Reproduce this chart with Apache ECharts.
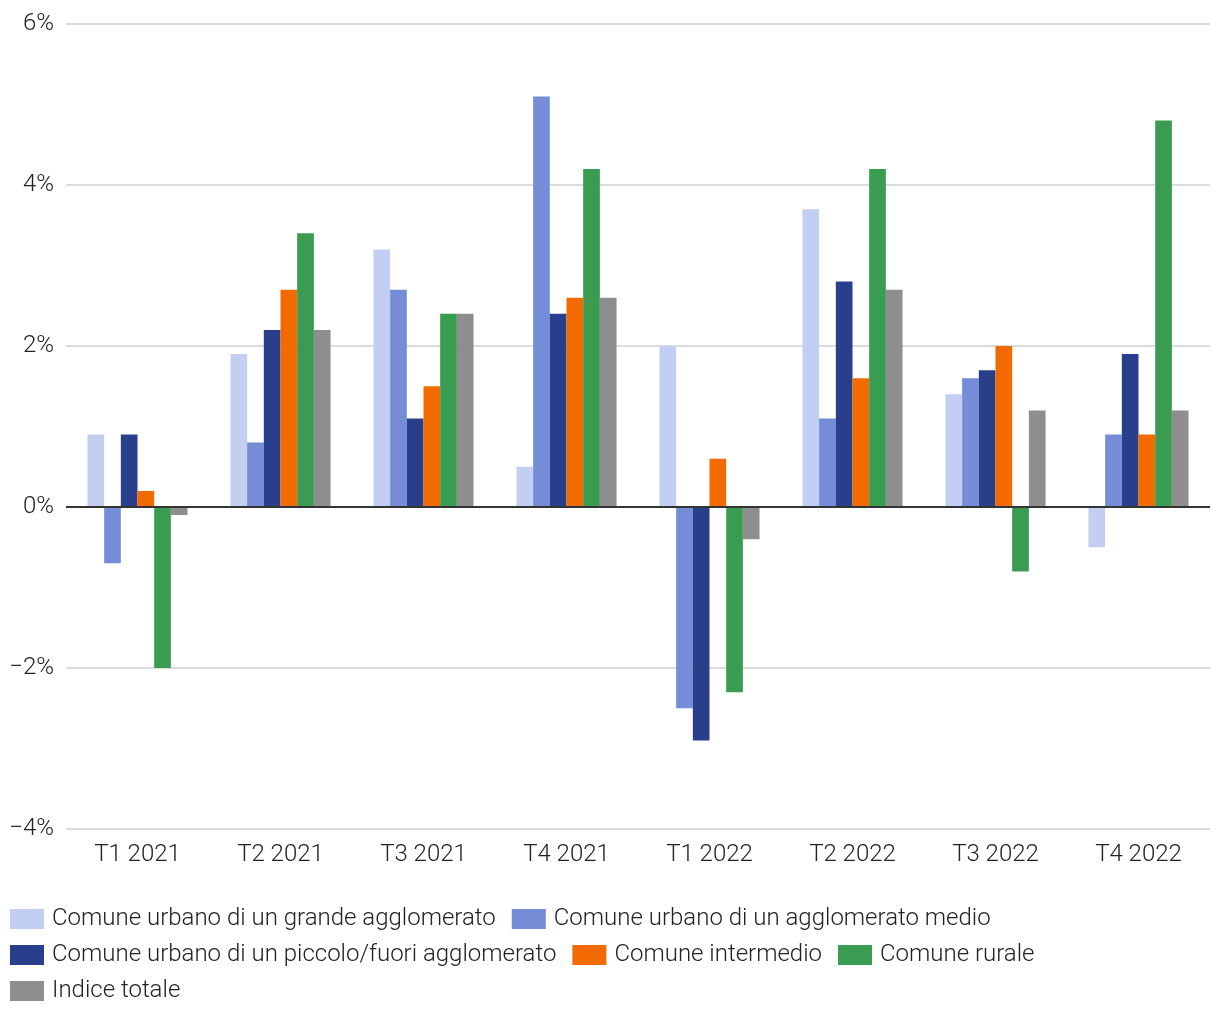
<!DOCTYPE html>
<html>
<head>
<meta charset="utf-8">
<script src="https://cdn.jsdelivr.net/npm/echarts@6/dist/echarts.min.js"></script>
<style>
html,body{margin:0;padding:0;background:#fff;}
#chart{width:1220px;height:1020px;}
</style>
</head>
<body>
<div id="chart"></div>
<script>
const categories = ['T1 2021','T2 2021','T3 2021','T4 2021','T1 2022','T2 2022','T3 2022','T4 2022'];
const seriesNames = [
  'Comune urbano di un grande agglomerato',
  'Comune urbano di un agglomerato medio',
  'Comune urbano di un piccolo/fuori agglomerato',
  'Comune intermedio',
  'Comune rurale',
  'Indice totale'
];
const grande     = [0.9, 1.9, 3.2, 0.5, 2.0, 3.7, 1.4, -0.5];
const medio      = [-0.7, 0.8, 2.7, 5.1, -2.5, 1.1, 1.6, 0.9];
const piccolo    = [0.9, 2.2, 1.1, 2.4, -2.9, 2.8, 1.7, 1.9];
const intermedio = [0.2, 2.7, 1.5, 2.6, 0.6, 1.6, 2.0, 0.9];
const rurale     = [-2.0, 3.4, 2.4, 4.2, -2.3, 4.2, -0.8, 4.8];
const totale     = [-0.1, 2.2, 2.4, 2.6, -0.4, 2.7, 1.2, 1.2];
const colors = ['#C3CFF2','#748DD6','#2A3F8B','#F36B00','#3A9C50','#8E8E8E'];
const dataSets = [grande, medio, piccolo, intermedio, rurale, totale];

const font = 'Roboto, sans-serif';
const txt = { fontFamily: font, fontSize: 24, fontWeight: 300, color: '#222222' };
const series = dataSets.map((d, i) => {
  const s = {
    name: seriesNames[i],
    type: 'bar',
    data: d,
    barGap: '0%',
    barCategoryGap: '30%',
    itemStyle: { color: colors[i] }
  };
  if (i === 0) {
    s.markLine = {
      silent: true,
      symbol: 'none',
      label: { show: false },
      lineStyle: { color: '#333333', width: 2, type: 'solid' },
      data: [{ yAxis: 0 }],
      z: 10
    };
  }
  return s;
});

const chart = echarts.init(document.getElementById('chart'));
chart.setOption({
  animation: false,
  backgroundColor: '#ffffff',
  color: colors,
  grid: { left: 66, right: 10, top: 24, bottom: 191, containLabel: false },
  legend: {
    left: 10,
    top: 907,
    width: 1205,
    padding: 0,
    itemWidth: 34,
    itemHeight: 20,
    itemGap: 12,
    icon: 'rect',
    textStyle: Object.assign({}, txt, { lineHeight: 24, padding: [0, 4, 0, 3] }),
    data: seriesNames
  },
  xAxis: {
    type: 'category',
    data: categories,
    axisLine: { show: false, onZero: false },
    axisTick: { show: false },
    axisLabel: Object.assign({}, txt, { margin: 14 })
  },
  yAxis: {
    type: 'value',
    min: -4,
    max: 6,
    interval: 2,
    axisLine: { show: false },
    axisTick: { show: false },
    splitLine: { lineStyle: { color: '#d0d0d0', width: 1.5 } },
    axisLabel: Object.assign({}, txt, {
      margin: 12,
      formatter: v => (v < 0 ? '\u2212' + Math.abs(v) : v) + '%'
    })
  },
  series: series
});
</script>
</body>
</html>
